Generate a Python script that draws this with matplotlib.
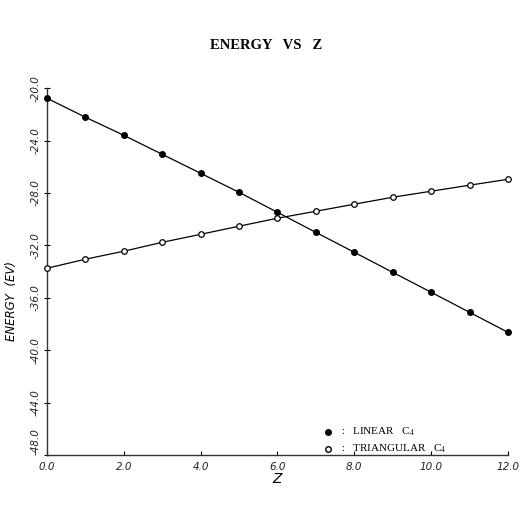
import matplotlib
matplotlib.use("Agg")
import matplotlib.pyplot as plt
import numpy as np

# data
z = [0, 1, 2, 3, 4, 5, 6, 7, 8, 9, 10, 11, 12]
linear_c4 = [-20.76, -22.21, -23.59, -25.04, -26.49, -27.94, -29.47,
             -31.00, -32.52, -34.05, -35.57, -37.10, -38.63]
triangular_c4 = [-33.74, -33.05, -32.44, -31.76, -31.15, -30.53, -29.92,
                 -29.39, -28.85, -28.32, -27.86, -27.40, -26.95]
xticks = [0, 2, 4, 6, 8, 10, 12]
yticks = [-20, -24, -28, -32, -36, -40, -44, -48]

plt.rcParams['mathtext.fontset'] = 'stix'

fig = plt.figure(figsize=(5.21, 5.16), dpi=100)
ax = fig.add_axes([0.090, 0.118, 0.885, 0.711])

ax.plot(z, linear_c4, color='black', lw=0.9, marker='o', ms=4,
        mfc='black', mec='black', clip_on=False, zorder=3)
ax.plot(z, triangular_c4, color='black', lw=0.9, marker='o', ms=4,
        mfc='white', mec='black', mew=0.9, clip_on=False, zorder=3)

ax.set_xlim(0, 12)
ax.set_ylim(-48, -20)
ax.set_xticks(xticks)
ax.set_yticks(yticks)
ax.set_xticklabels(['{:.1f}'.format(v) for v in xticks],
                   fontstyle='italic', fontsize=7.5, color='#222222')
ax.set_yticklabels(['{:.1f}'.format(v) for v in yticks],
                   fontstyle='italic', fontsize=7.5, color='#222222',
                   rotation=90, va='center')
# bottom y label sits above the corner, as in the original
ax.get_yticklabels()[-1].set_va('bottom')
ax.tick_params(axis='x', direction='in', length=3, width=0.8, pad=5)
ax.tick_params(axis='y', direction='inout', length=5, width=0.8, pad=2)

for s in ['top', 'right']:
    ax.spines[s].set_visible(False)
for s in ['left', 'bottom']:
    ax.spines[s].set_linewidth(1.0)
    ax.spines[s].set_color('#333333')

ax.set_xlabel('Z', fontstyle='italic', fontsize=10, labelpad=0)
ax.set_ylabel('ENERGY  (EV)', fontstyle='italic', fontsize=8.5)
ax.yaxis.set_label_coords(-0.062, 0.42)

fig.text(0.51, 0.912, 'ENERGY   VS   Z', ha='center', va='center',
         fontsize=10.5, fontweight='bold', family='Liberation Serif')

# legend drawn as in the original, marker + colon + label
ax.plot([0.61], [0.064], transform=ax.transAxes, marker='o', ms=4,
        mfc='black', mec='black', clip_on=False)
ax.plot([0.61], [0.016], transform=ax.transAxes, marker='o', ms=4,
        mfc='white', mec='black', clip_on=False)
ax.text(0.638, 0.064, ':   LINEAR   C$_4$', transform=ax.transAxes,
        va='center', fontsize=8, family='Liberation Serif')
ax.text(0.638, 0.016, ':   TRIANGULAR   C$_4$', transform=ax.transAxes,
        va='center', fontsize=8, family='Liberation Serif')

fig.savefig('out.png', dpi=100)
